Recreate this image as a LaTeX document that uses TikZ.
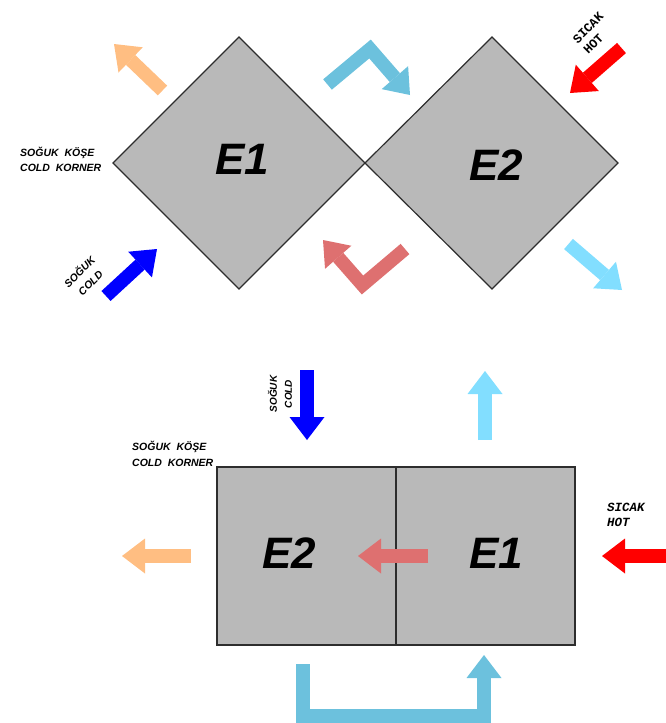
\documentclass[tikz,border=0pt]{standalone}
\usepackage{fontspec}
\setmainfont{Liberation Sans}
\newfontfamily\monofont{Liberation Mono}
\usetikzlibrary{arrows.meta}

\definecolor{boxgray}{RGB}{185,185,185}
\definecolor{edgegray}{RGB}{45,45,45}
\definecolor{exhaust}{RGB}{255,190,130}
\definecolor{fresh}{RGB}{0,0,255}
\definecolor{supply}{RGB}{108,193,221}
\definecolor{hotair}{RGB}{255,0,0}
\definecolor{outair}{RGB}{130,222,255}
\definecolor{backair}{RGB}{222,112,112}

\tikzset{
    box/.style={draw=edgegray, fill=boxgray, line width=1.2pt},
    flow/.style={line width=13.5pt, line join=miter,
        -{Triangle[width=35pt,length=23pt,line width=0pt]}},
    unit/.style={font=\bfseries\itshape\fontsize{44}{44}\selectfont, inner sep=0pt},
    tag/.style={font=\bfseries\itshape\fontsize{10.5}{15.5}\selectfont, align=left, inner sep=0pt},
    sidetag/.style={font=\bfseries\itshape\fontsize{10.5}{15.5}\selectfont, align=center, inner sep=0pt},
    hottag/.style={font=\monofont\bfseries\fontsize{12.5}{15}\selectfont, align=left, inner sep=0pt}
}

\begin{document}
\begin{tikzpicture}[x=1pt,y=-1pt]
    \useasboundingbox (0,0) rectangle (666,723);
    \def\diaA{(113,163) -- (239,37) -- (365,163) -- (239,289) -- cycle}
    \def\diaB{(365,163) -- (492,37) -- (618,163) -- (492,289) -- cycle}

    % diamond layout
    \draw[box] \diaA;
    \draw[box] \diaB;
    \node[unit] (e1top) at (242,159) {E1};
    \node[unit] (e2top) at (496,165) {E2};

    \node[tag, anchor=west] (kosetop) at (20,159.5) {SOĞUK\ \ KÖŞE\\COLD\ \ KORNER};
    \node[sidetag, rotate=45] (coldtop) at (84.5,277) {SOĞUK\\COLD};
    \node[hottag, rotate=45, anchor=west] (hottop) at (580,46.7) {SICAK\\HOT};

    \coordinate (exA) at (162.5,90.5);
    \coordinate (exB) at (114,44);
    \draw[flow, exhaust] (exA) -- (exB);

    \coordinate (frA) at (106,296);
    \coordinate (frB) at (157,249);
    \draw[flow, fresh] (frA) -- (frB);

    \coordinate (suA) at (327.5,84.5);
    \coordinate (suB) at (370,49);
    \coordinate (suC) at (410,95);
    \draw[flow, supply] (suA) -- (suB) -- (suC);

    \coordinate (baA) at (405,249);
    \coordinate (baB) at (362.5,285);
    \coordinate (baC) at (323,240);
    \draw[flow, backair] (baA) -- (baB) -- (baC);

    \coordinate (hoA) at (621.5,48);
    \coordinate (hoB) at (570,93);
    \draw[flow, hotair] (hoA) -- (hoB);

    \coordinate (ouA) at (568.5,244);
    \coordinate (ouB) at (622,290);
    \draw[flow, outair] (ouA) -- (ouB);

    % block layout
    \draw[box] (217,467) rectangle (575,645);
    \draw[box] (396,467) -- (396,645);
    \node[unit] (e2bot) at (289,553) {E2};
    \node[unit] (e1bot) at (496,553) {E1};

    \node[tag, anchor=west] (kosebot) at (132,454) {SOĞUK\ \ KÖŞE\\COLD\ \ KORNER};
    \node[sidetag, rotate=90, font=\bfseries\itshape\fontsize{10}{15}\selectfont] (coldbot) at (280,394) {SOĞUK\\COLD};
    \node[hottag, anchor=west, font=\monofont\bfseries\itshape\fontsize{12.5}{15}\selectfont] (hotbot) at (607,515) {SICAK\\HOT};

    \coordinate (frC) at (307,370);
    \coordinate (frD) at (307,440);
    \draw[flow, fresh] (frC) -- (frD);

    \coordinate (ouC) at (485,440);
    \coordinate (ouD) at (485,371);
    \draw[flow, outair] (ouC) -- (ouD);

    \coordinate (exC) at (191,556);
    \coordinate (exD) at (122,556);
    \draw[flow, exhaust] (exC) -- (exD);

    \coordinate (baD) at (428,556);
    \coordinate (baE) at (358,556);
    \draw[flow, backair] (baD) -- (baE);

    \coordinate (hoC) at (668,556);
    \coordinate (hoD) at (602,556);
    \draw[flow, hotair] (hoC) -- (hoD);

    \coordinate (suD) at (303,664);
    \coordinate (suE) at (303,716);
    \coordinate (suF) at (484,716);
    \coordinate (suG) at (484,655);
    \draw[flow, supply] (suD) -- (suE) -- (suF) -- (suG);
\end{tikzpicture}
\end{document}
